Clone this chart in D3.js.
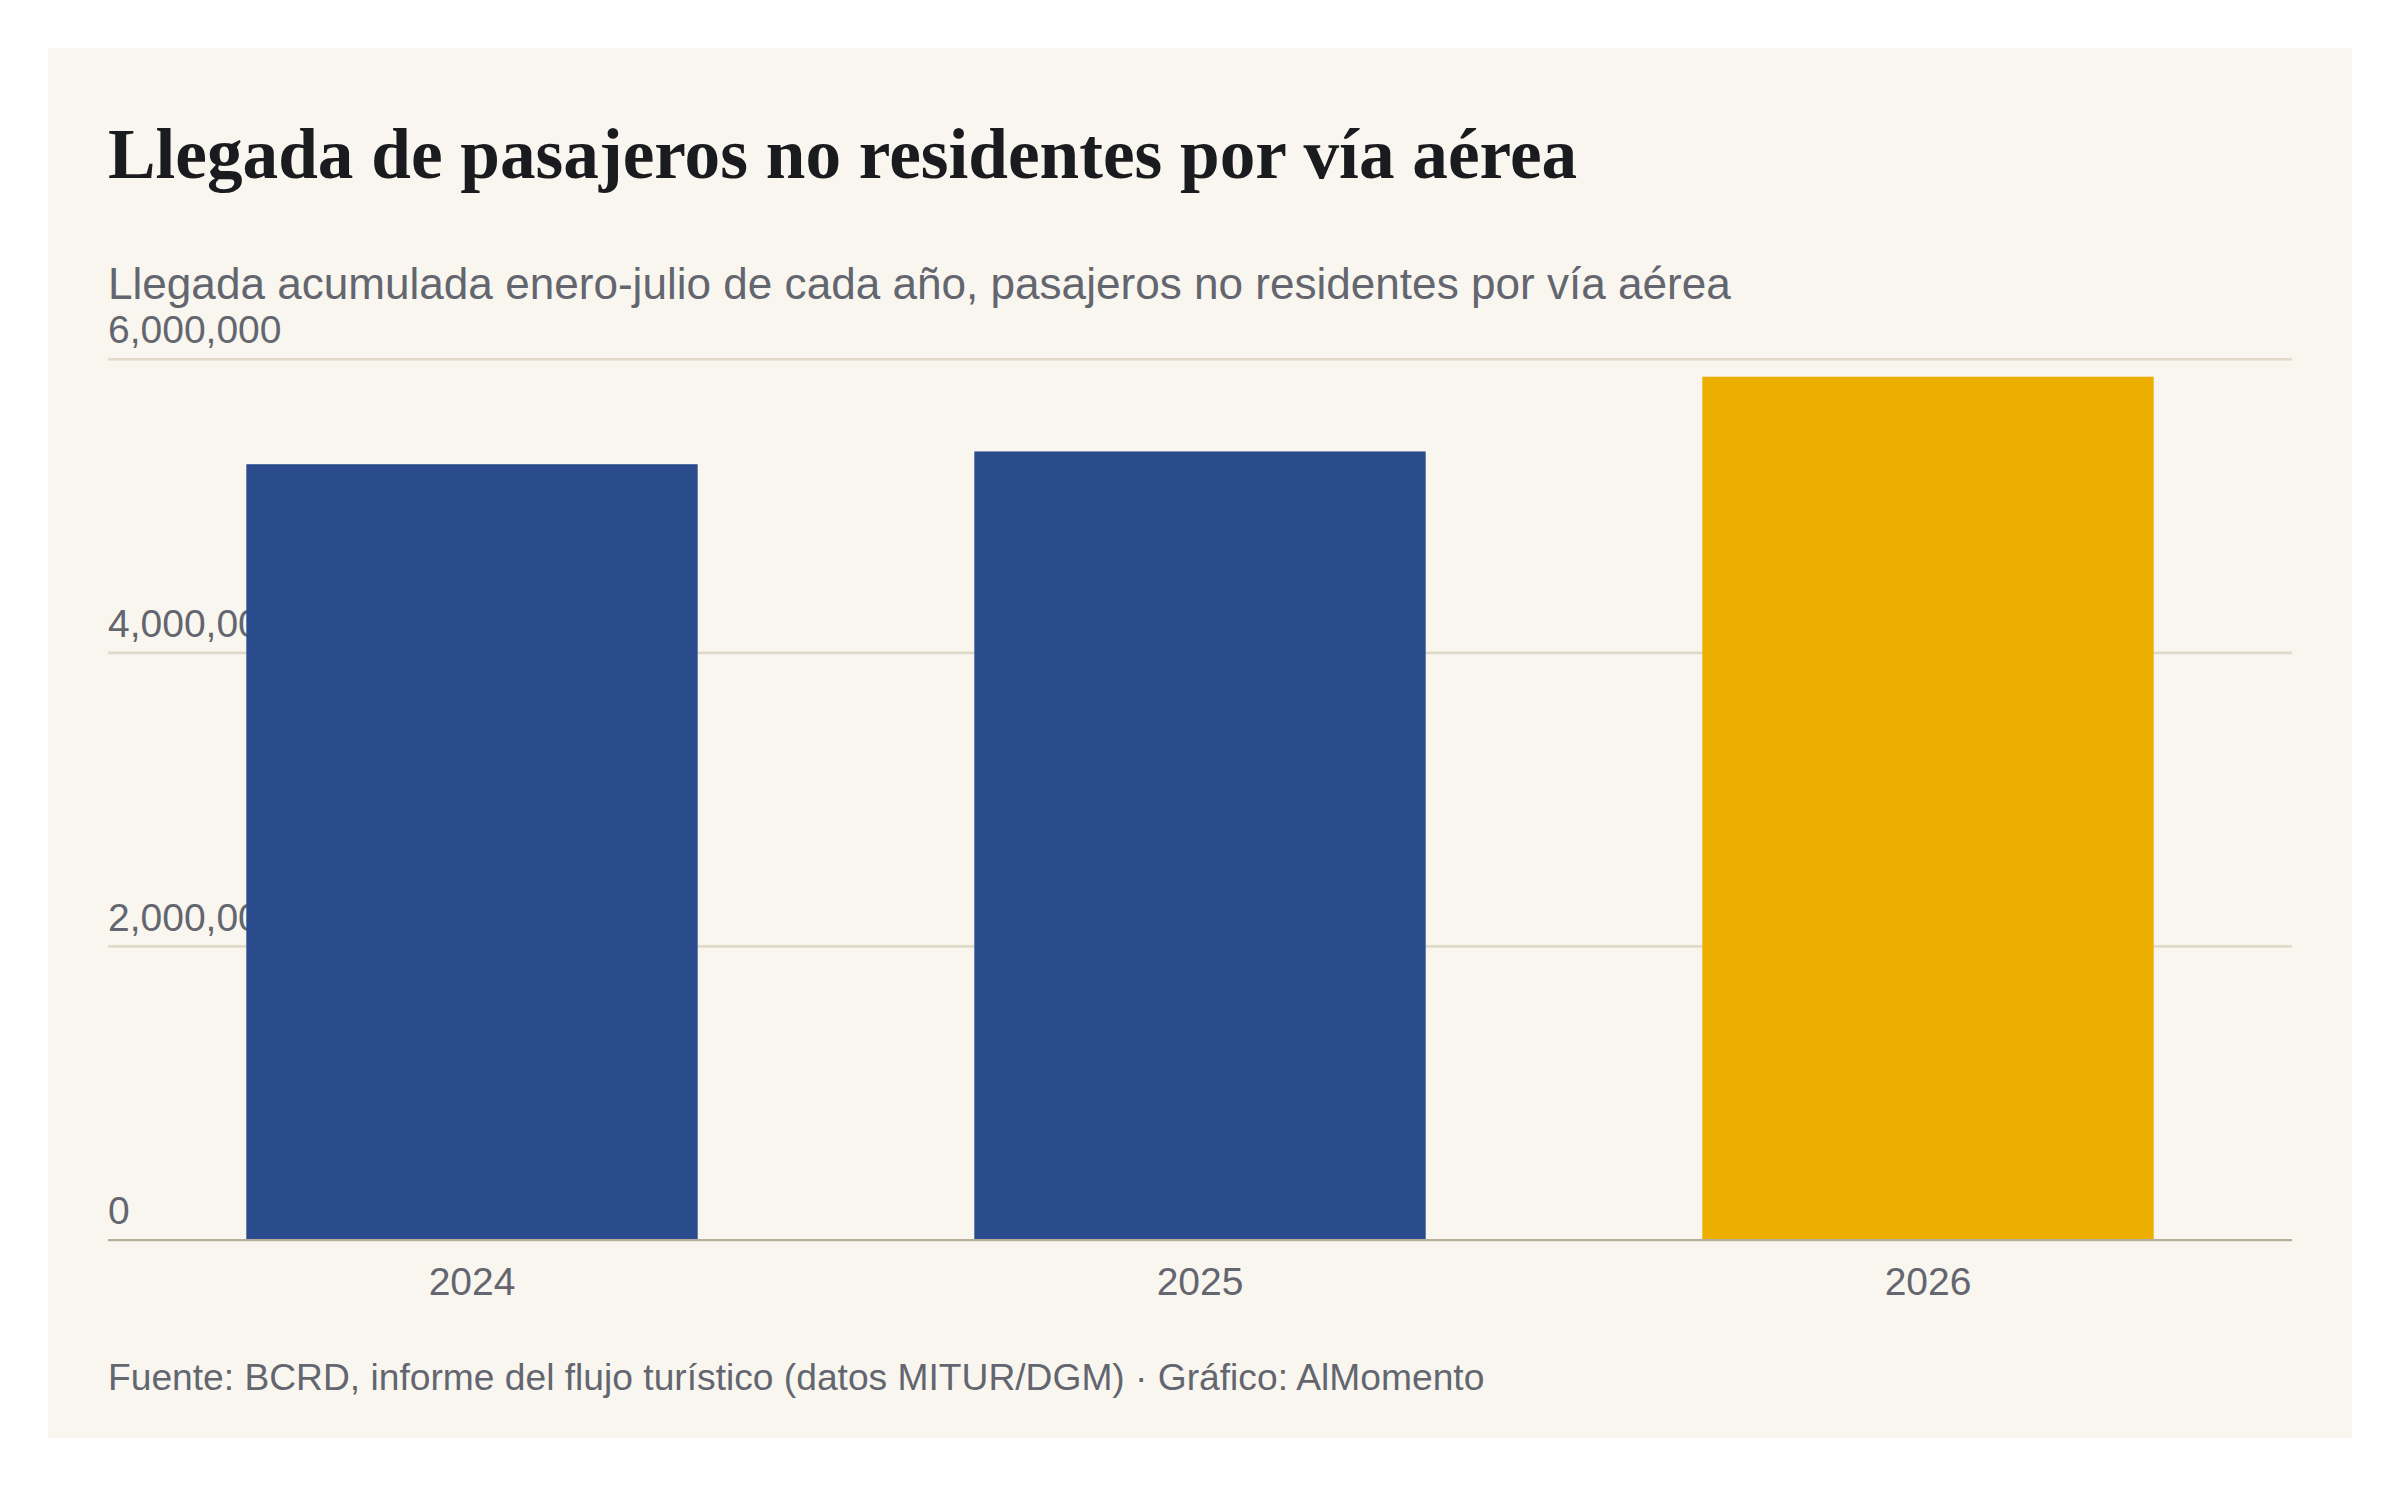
<!DOCTYPE html>
<html lang="es">
<head>
<meta charset="utf-8">
<title>Llegada de pasajeros no residentes por vía aérea</title>
<script src="https://cdn.jsdelivr.net/npm/d3@7/dist/d3.min.js"></script>
<style>
  html, body { margin: 0; padding: 0; background: #ffffff; }
  svg { display: block; }
</style>
</head>
<body>
<div id="chart"></div>
<script>
// Llegada acumulada enero-julio, pasajeros no residentes por vía aérea.
// Values (approximate).
const years = ["2024", "2025", "2026"];
const arrivals = [5285000, 5372000, 5881000];
const barColors = ["#2a4b8c", "#2a4b8c", "#ecaf00"];
const yTicks = [0, 2000000, 4000000, 6000000];

const titleText = "Llegada de pasajeros no residentes por vía aérea";
const subtitleText = "Llegada acumulada enero-julio de cada año, pasajeros no residentes por vía aérea";
const sourceText = "Fuente: BCRD, informe del flujo turístico (datos MITUR/DGM) · Gráfico: AlMomento";

// Layout is worked out on a 1600-wide canvas, scaled up to the window.
const W = 1600, H = 1486 / 1.5;
const card = { x: 32, y: 32, w: W - 64, h: H - 64 };
const margin = { left: 72, right: 72, top: 239.5, bottom: 826.7 };
const sans = "'Liberation Sans', Arial, sans-serif";

const svg = d3.select("#chart")
  .append("svg")
  .attr("width", 2400)
  .attr("height", 1486)
  .attr("viewBox", `0 0 ${W} ${H}`);

svg.append("rect")
  .attr("x", card.x).attr("y", card.y)
  .attr("width", card.w).attr("height", card.h)
  .attr("fill", "#f9f6f0");

svg.append("text")
  .attr("x", 72).attr("y", 118.5)
  .attr("font-family", "'Liberation Serif', 'Times New Roman', serif")
  .attr("font-weight", 700)
  .attr("font-size", 47.5)
  .attr("fill", "#1a1b1f")
  .text(titleText);

svg.append("text")
  .attr("x", 72).attr("y", 199)
  .attr("font-family", sans)
  .attr("font-size", 29.4)
  .attr("fill", "#63666e")
  .text(subtitleText);

const x = d3.scaleBand()
  .domain(years)
  .range([margin.left, W - margin.right])
  .paddingInner(0.38)
  .paddingOuter(0.19);

const y = d3.scaleLinear()
  .domain([0, d3.max(yTicks)])
  .range([margin.bottom, margin.top]);

// gridlines + labels sit under the bars
const grid = svg.append("g");
grid.selectAll("line")
  .data(yTicks.filter(d => d > 0))
  .join("line")
  .attr("x1", margin.left).attr("x2", W - margin.right)
  .attr("y1", d => y(d)).attr("y2", d => y(d))
  .attr("stroke", "#e2dacb")
  .attr("stroke-width", 1.8);

grid.selectAll("text")
  .data(yTicks)
  .join("text")
  .attr("x", margin.left)
  .attr("y", d => y(d) - 10.6)
  .attr("font-family", sans)
  .attr("font-size", 26)
  .attr("fill", "#63666e")
  .text(d => d3.format(",")(d));

svg.append("g")
  .selectAll("rect")
  .data(arrivals)
  .join("rect")
  .attr("x", (d, i) => x(years[i]))
  .attr("width", x.bandwidth())
  .attr("y", d => y(d))
  .attr("height", d => y(0) - y(d))
  .attr("fill", (d, i) => barColors[i]);

// baseline + year labels via d3.axisBottom
const xAxis = svg.append("g")
  .attr("transform", `translate(0,${y(0)})`)
  .call(d3.axisBottom(x).tickSize(0).tickPadding(0));
xAxis.select(".domain")
  .attr("d", `M${margin.left},0H${W - margin.right}`)
  .attr("stroke", "#b8ae9c")
  .attr("stroke-width", 1.5);
xAxis.selectAll(".tick text")
  .attr("dy", null)
  .attr("y", 36.6)
  .attr("font-family", sans)
  .attr("font-size", 26)
  .attr("fill", "#63666e");

svg.append("text")
  .attr("x", 72).attr("y", 926.7)
  .attr("font-family", sans)
  .attr("font-size", 24.8)
  .attr("fill", "#63666e")
  .text(sourceText);
</script>
</body>
</html>
